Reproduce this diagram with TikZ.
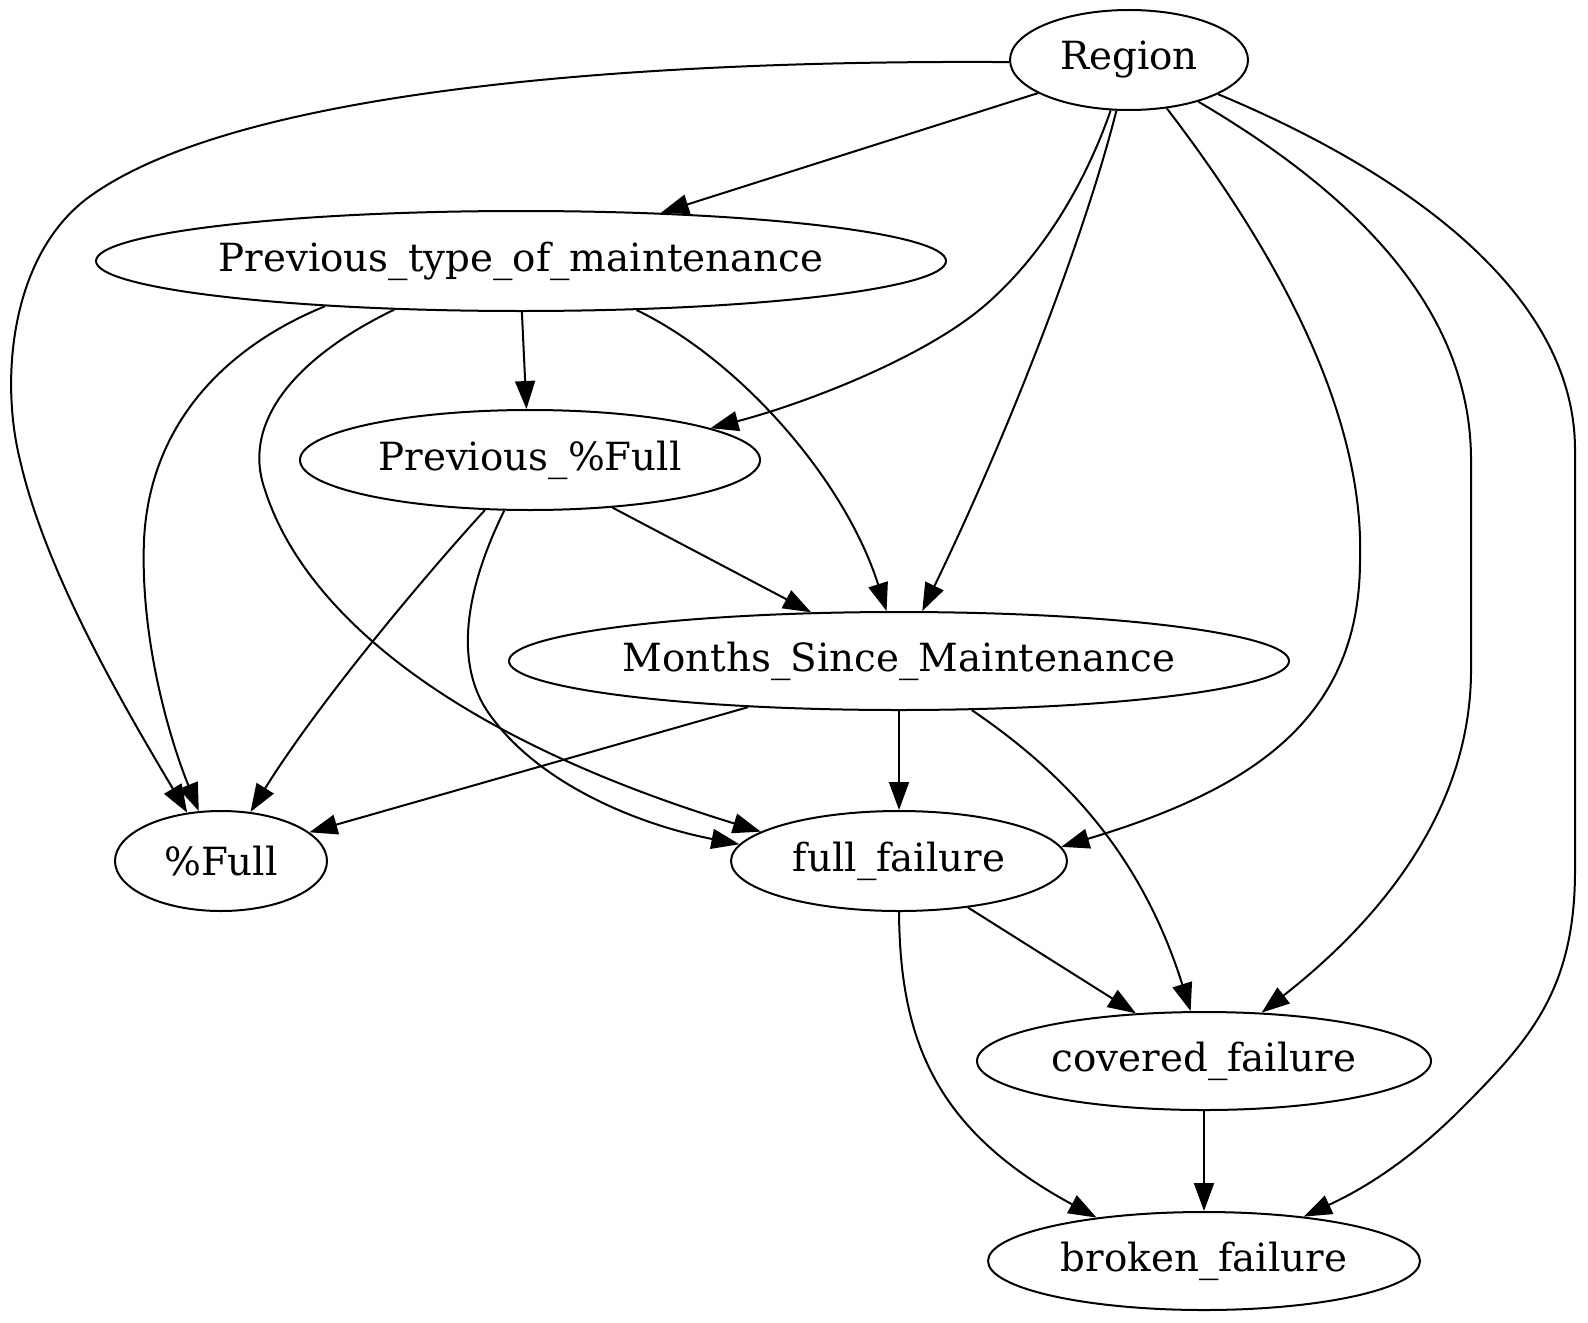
\documentclass[tikz,border=0pt]{standalone}
\usepackage{fontspec}
\setmainfont{DejaVu Serif}
\usetikzlibrary{shapes.geometric,arrows.meta}
\begin{document}
\begin{tikzpicture}[x=0.5pt,y=-0.5pt,
  var/.style={ellipse,draw,line width=1pt,inner sep=0pt,minimum height=50pt,
    font=\fontsize{19.4}{23}\selectfont},
  link/.style={line width=1pt,-{Triangle[length=14pt,width=10pt]}}]
\useasboundingbox (0,0) rectangle (1588,1322);

% variables
\node[var,minimum width=119pt] (R)  at (1129,60)   {\makebox[0pt]{Region}};
\node[var,minimum width=425pt] (P)  at (521,261)   {\makebox[0pt]{Previous\_type\_of\_maintenance}};
\node[var,minimum width=230pt] (PF) at (530,460)   {\makebox[0pt]{Previous\_\%Full}};
\node[var,minimum width=390pt,minimum height=49pt] (M) at (899,661) {\makebox[0pt]{Months\_Since\_Maintenance}};
\node[var,minimum width=106pt] (F)  at (221,861)   {\makebox[0pt]{\%Full}};
\node[var,minimum width=168pt] (ff) at (899,861)   {\makebox[0pt]{full\_failure}};
\node[var,minimum width=227pt,minimum height=49pt] (cf) at (1204,1061) {\makebox[0pt]{covered\_failure}};
\node[var,minimum width=216pt,minimum height=49pt] (bf) at (1204,1261) {\makebox[0pt]{broken\_failure}};

% edges out of Region
\draw[link] (R.181) .. controls (700,60) and (250,80) .. (89,197)
  .. controls (10,255) and (0,380) .. (20,460)
  .. controls (45,570) and (120,700) .. (F.125);
\draw[link] (R.200) -- (P.19);
\draw[link] (R.250) .. controls (1090,170) and (1050,250) .. (983,307)
  .. controls (920,360) and (800,405) .. (PF.10);
\draw[link] (R.256) .. controls (1085,235) and (1010,430) .. (M.65);
\draw[link] (R.308) .. controls (1260,230) and (1365,400) .. (1360,560)
  .. controls (1360,720) and (1250,790) .. (ff.5);
\draw[link] (R.329) .. controls (1340,185) and (1471,300) .. (1471,460)
  -- (1471,670) .. controls (1471,810) and (1380,920) .. (cf.40);
\draw[link] (R.339) .. controls (1400,170) and (1575,290) .. (1575,450)
  -- (1575,870) .. controls (1575,990) and (1530,1040) .. (1460,1110)
  .. controls (1400,1170) and (1350,1195) .. (bf.24);

% edges out of Previous_type_of_maintenance
\draw[link] (P.193) .. controls (230,345) and (150,420) .. (144,540)
  .. controls (140,640) and (170,740) .. (F.114);
\draw[link] (P.271) -- (PF.94);
\draw[link] (P.337) .. controls (740,360) and (845,480) .. (M.104);
\draw[link] (P.201) .. controls (300,355) and (240,420) .. (265,490)
  .. controls (300,600) and (430,730) .. (ff.168);

% edges out of Previous_%Full
\draw[link] (PF.228) .. controls (430,570) and (320,700) .. (F.59);
\draw[link] (PF.243) .. controls (470,580) and (450,660) .. (490,715)
  .. controls (540,785) and (640,825) .. (ff.174);
\draw[link] (PF.330) -- (M.151);

% edges out of Months_Since_Maintenance
\draw[link] (M.197) -- (F.18);
\draw[link] (M.270) -- (ff.90);
\draw[link] (M.326) .. controls (1060,770) and (1140,850) .. (cf.105);

% edges out of the failure nodes
\draw[link] (ff.326) -- (cf.145);
\draw[link] (ff.270) .. controls (900,1040) and (935,1130) .. (bf.158);
\draw[link] (cf.270) -- (bf.90);
\end{tikzpicture}
\end{document}
